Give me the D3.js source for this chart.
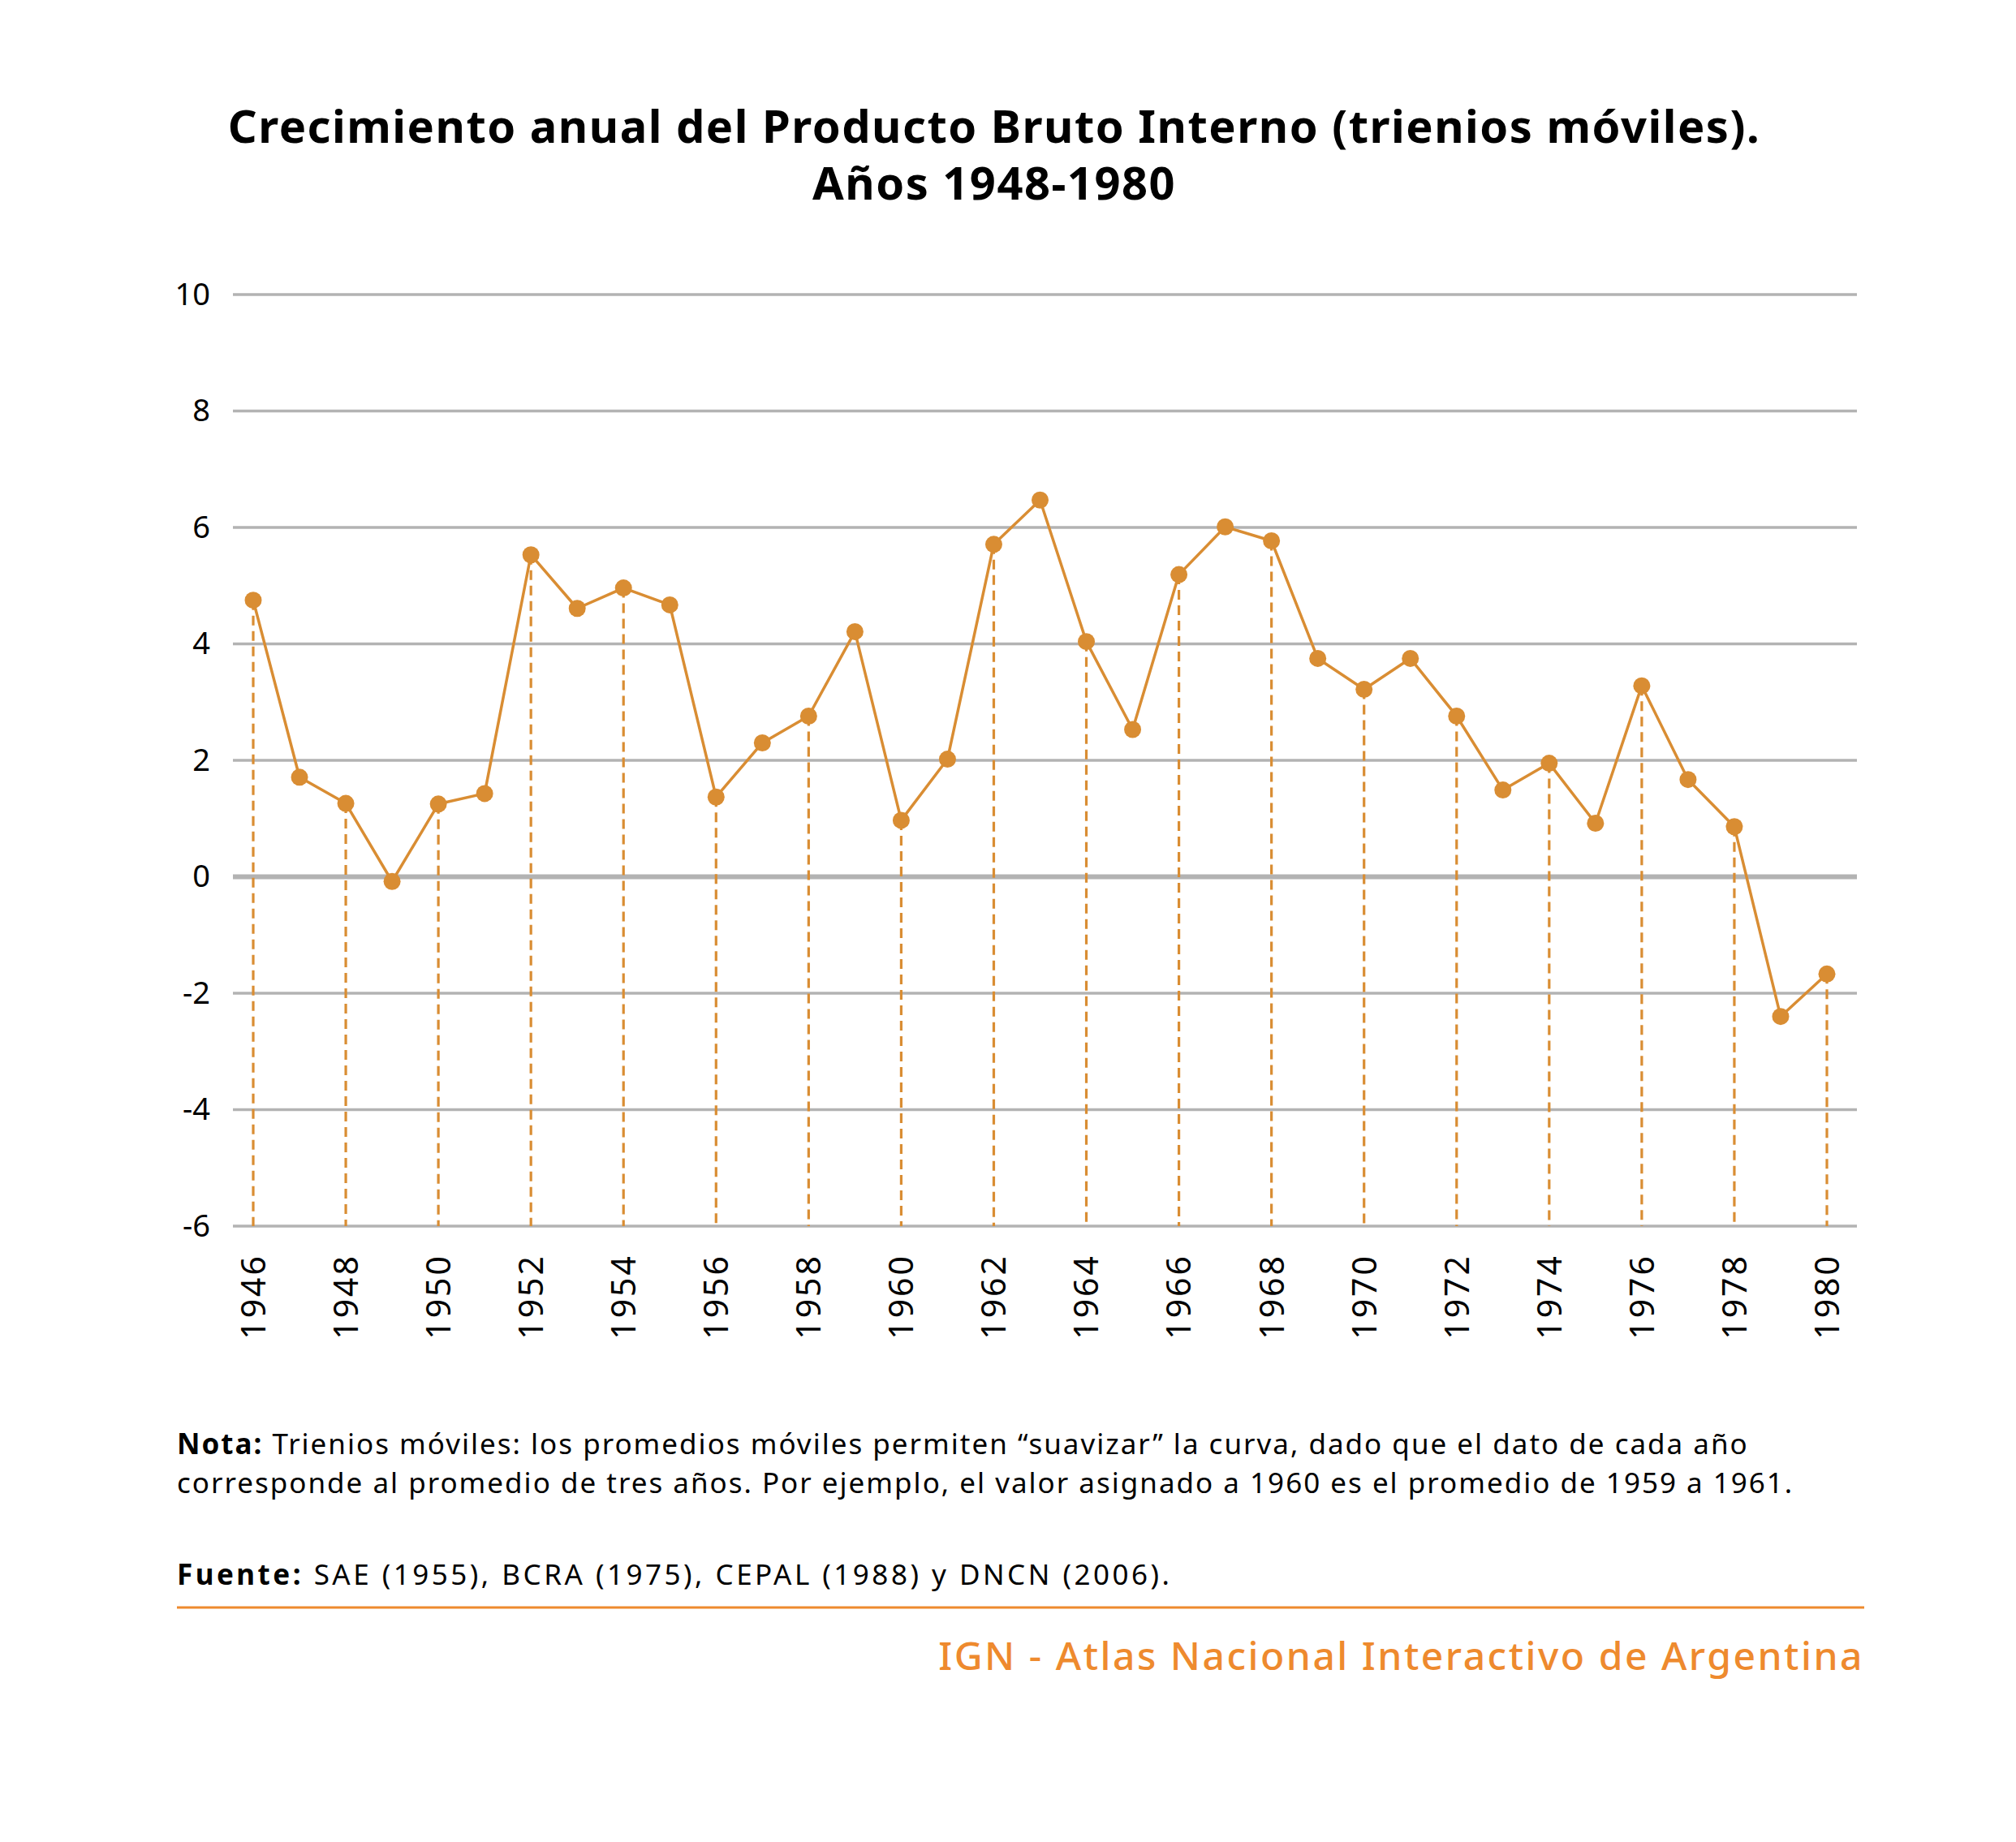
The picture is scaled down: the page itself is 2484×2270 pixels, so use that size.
<!DOCTYPE html>
<html>
<head>
<meta charset="utf-8">
<script src="https://cdn.jsdelivr.net/npm/d3@7"></script>
<style>
  body { margin: 0; background: #fff; }
  text { font-family: 'Noto Sans', sans-serif; }
</style>
</head>
<body>
<div id="chart"></div>
<script>
// data
var years = d3.range(1946, 1981);
var growth = [4.75, 1.71, 1.26, -0.08, 1.25, 1.43, 5.53, 4.61, 4.96, 4.67,
              1.37, 2.30, 2.76, 4.21, 0.97, 2.02, 5.71, 6.47, 4.04, 2.53,
              5.19, 6.01, 5.77, 3.75, 3.22, 3.75, 2.76, 1.49, 1.95, 0.92,
              3.28, 1.67, 0.86, -2.40, -1.67];
var yTicks = [-6, -4, -2, 0, 2, 4, 6, 8, 10];
var xTicks = d3.range(1946, 1981, 2);

var titleLines = ["Crecimiento anual del Producto Bruto Interno (trienios móviles).", "Años 1948-1980"];
var nota = ["Trienios móviles: los promedios móviles permiten “suavizar” la curva, dado que el dato de cada año",
            "corresponde al promedio de tres años. Por ejemplo, el valor asignado a 1960 es el promedio de 1959 a 1961."];
var fuente = "SAE (1955), BCRA (1975), CEPAL (1988) y DNCN (2006).";
var footer = "IGN - Atlas Nacional Interactivo de Argentina";

var data = years.map(function (y, i) { return { year: y, value: growth[i] }; });

var W = 2484, H = 2270;
var orange = "#d98d33";

var svg = d3.select("#chart").append("svg")
    .attr("width", W)
    .attr("height", H);

var x = d3.scaleLinear().domain([1946, 1980]).range([312, 2251]);
var y = d3.scaleLinear().domain([-6, 10]).range([1511, 363]);

// title
svg.append("g").selectAll("text")
    .data(titleLines)
    .enter().append("text")
    .attr("x", 1225)
    .attr("y", function (d, i) { return 176 + i * 70; })
    .attr("text-anchor", "middle")
    .style("font-size", "56px")
    .style("font-weight", "bold")
    .style("letter-spacing", "1.5px")
    .style("fill", "#000")
    .text(function (d) { return d; });

// grid
var yAxis = d3.axisLeft(y).tickValues(yTicks).tickSize(0).tickPadding(28)
    .tickFormat(function (d) { return String(d); });
var gy = svg.append("g")
    .attr("transform", "translate(287,0)")
    .call(yAxis);
gy.select(".domain").remove();
gy.selectAll("text")
    .style("font-size", "38px")
    .style("font-family", "'Noto Sans', sans-serif")
    .style("fill", "#000");

svg.append("g").selectAll("line")
    .data(yTicks)
    .enter().append("line")
    .attr("x1", 287)
    .attr("x2", 2288)
    .attr("y1", function (d) { return y(d); })
    .attr("y2", function (d) { return y(d); })
    .style("stroke", "#b3b3b3")
    .style("stroke-width", function (d) { return d === 0 ? 6 : 3.5; });

// dashed drop lines for even years
svg.append("g").selectAll("line")
    .data(data.filter(function (d) { return d.year % 2 === 0; }))
    .enter().append("line")
    .attr("x1", function (d) { return x(d.year); })
    .attr("x2", function (d) { return x(d.year); })
    .attr("y1", function (d) { return y(d.value); })
    .attr("y2", y(-6))
    .style("stroke", orange)
    .style("stroke-width", 3.2)
    .style("stroke-dasharray", "12,7");

// line
var line = d3.line()
    .x(function (d) { return x(d.year); })
    .y(function (d) { return y(d.value); });

svg.append("path")
    .datum(data)
    .attr("d", line)
    .style("fill", "none")
    .style("stroke", orange)
    .style("stroke-width", 3.5)
    .style("stroke-linejoin", "round");

svg.append("g").selectAll("circle")
    .data(data)
    .enter().append("circle")
    .attr("cx", function (d) { return x(d.year); })
    .attr("cy", function (d) { return y(d.value); })
    .attr("r", 10.5)
    .style("fill", orange);

// x labels
var xAxis = d3.axisBottom(x).tickValues(xTicks).tickFormat(d3.format("d")).tickSize(0);
var gx = svg.append("g")
    .attr("transform", "translate(0," + y(-6) + ")")
    .call(xAxis);
gx.select(".domain").remove();
gx.selectAll("text")
    .style("font-size", "41px")
    .style("letter-spacing", "3px")
    .style("font-family", "'Noto Sans', sans-serif")
    .style("fill", "#000")
    .style("text-anchor", "end")
    .attr("dy", "0.35em")
    .attr("y", 0)
    .attr("x", -34)
    .attr("transform", "rotate(-90)");

// note
var notaText = svg.append("g").selectAll("text")
    .data(nota)
    .enter().append("text")
    .attr("x", 218)
    .attr("y", function (d, i) { return 1792 + i * 48; })
    .style("font-size", "35px")
    .style("letter-spacing", "2px")
    .style("fill", "#000");
notaText.filter(function (d, i) { return i === 0; })
    .append("tspan").style("font-weight", "bold").text("Nota: ");
notaText.append("tspan").text(function (d) { return d; });

var f = svg.append("text")
    .attr("x", 218)
    .attr("y", 1953)
    .style("font-size", "35px")
    .style("letter-spacing", "3.5px")
    .style("fill", "#000");
f.append("tspan").style("font-weight", "bold").text("Fuente: ");
f.append("tspan").text(fuente);

svg.append("line")
    .attr("x1", 218).attr("x2", 2297)
    .attr("y1", 1981).attr("y2", 1981)
    .style("stroke", "#ee8a2e")
    .style("stroke-width", 3);

svg.append("text")
    .attr("x", 2297)
    .attr("y", 2058)
    .attr("text-anchor", "end")
    .style("font-size", "48px")
    .style("font-weight", "500")
    .style("letter-spacing", "2.5px")
    .style("fill", "#ee8a2e")
    .text(footer);
</script>
</body>
</html>
